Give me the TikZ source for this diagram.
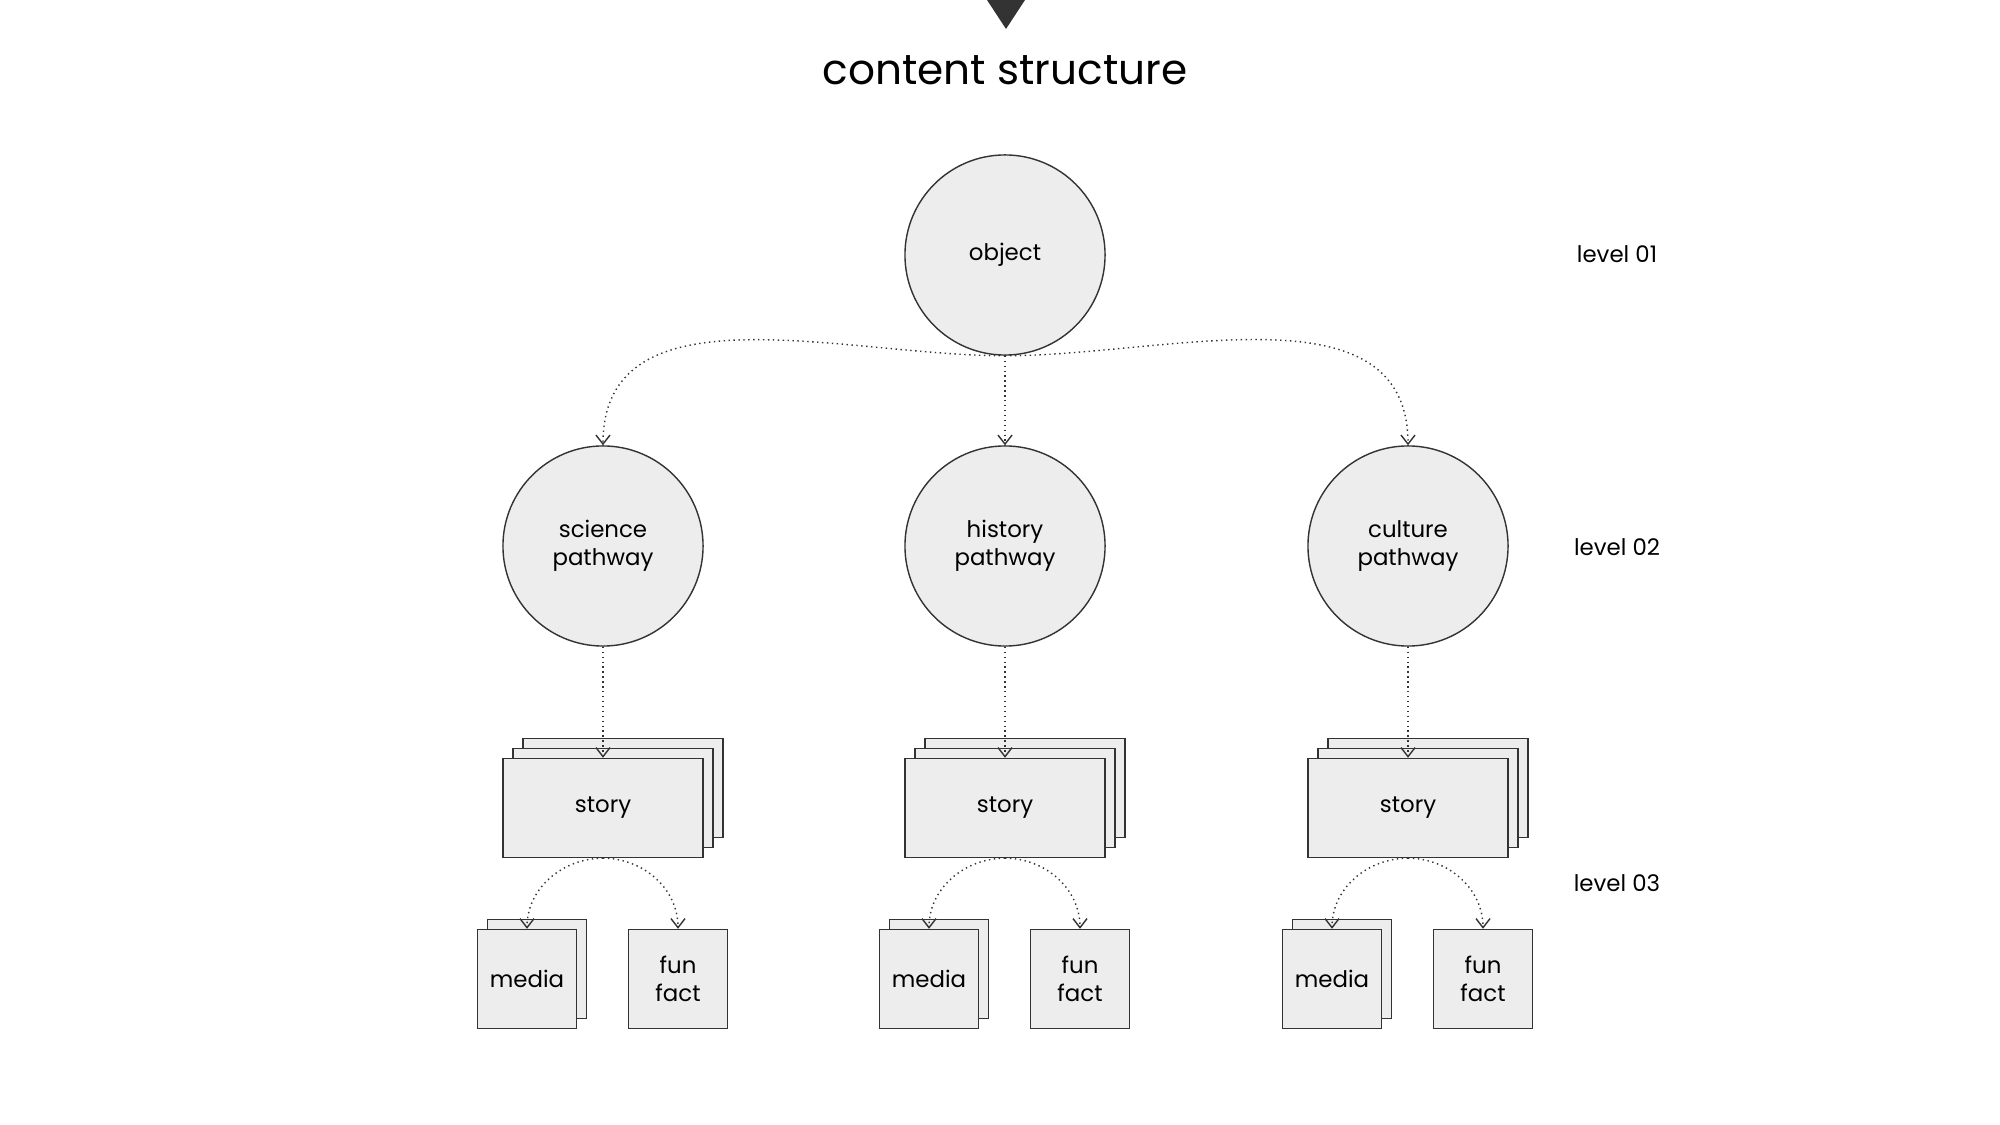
\documentclass[tikz,border=0pt]{standalone}
\usepackage{fontspec}
\setmainfont{Poppins}
\usetikzlibrary{positioning,arrows.meta}

\begin{document}
\begin{tikzpicture}[x=0.01cm, y=-0.01cm,
        bubble/.style={circle, draw=black!80, fill=black!7, thin, minimum size=2cm, inner sep=0pt, align=center, font=\fontsize{6.5}{8}\selectfont},
        card/.style={rectangle, draw=black!80, fill=black!7, thin, minimum width=2cm, minimum height=0.99cm, font=\fontsize{6.5}{8}\selectfont},
        tile/.style={rectangle, draw=black!80, fill=black!7, thin, minimum size=0.99cm, align=center, font=\fontsize{6.5}{8}\selectfont},
        lvl/.style={font=\fontsize{6.5}{8}\selectfont},
        link/.style={densely dotted, black!80, thin, -{Straight Barb[length=0.9mm, width=1.4mm]}}
    ]
    \useasboundingbox (0,0) rectangle (2000,1125);

    \fill[black!80] (987,0) -- (1025,0) -- (1006,29) -- cycle;
    \node (title) at (1005,70) {\fontsize{12}{14}\selectfont content structure};

    \node[bubble] (obj) at (1005,255) {object};

    \foreach \n/\x/\t in {sci/603/science, his/1005/history, cul/1408/culture} {
        \node[bubble] (\n) at (\x,546) {\t\\pathway};
        \node[card] (\n s2) at (\x+20,788) {};
        \node[card] (\n s1) at (\x+10,798) {};
        \node[card] (\n s)  at (\x,808) {story};
        \node[tile] (\n m1) at (\x-66,969) {};
        \node[tile] (\n m)  at (\x-76,979) {media};
        \node[tile] (\n f)  at (\x+75,979) {fun\\fact};
        \draw[link] (\n.south) -- (\n s.north);
        \draw[link] (\n s.south) to[out=180, in=90] (\n m.north);
        \draw[link] (\n s.south) to[out=0, in=90] (\n f.north);
    }

    \draw[link] (obj.south) to[out=180, in=90] (sci.north);
    \draw[link] (obj.south) -- (his.north);
    \draw[link] (obj.south) to[out=0, in=90] (cul.north);

    \node[lvl] (l1) at (1617,254) {level 01};
    \node[lvl] (l2) at (1617,547) {level 02};
    \node[lvl] (l3) at (1617,883) {level 03};
\end{tikzpicture}
\end{document}
